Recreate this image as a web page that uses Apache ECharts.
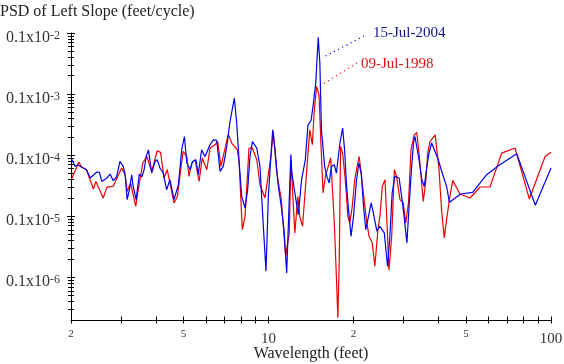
<!DOCTYPE html>
<html><head><meta charset="utf-8">
<script src="https://cdn.jsdelivr.net/npm/echarts@6/dist/echarts.min.js"></script>
<style>html,body{margin:0;padding:0;background:#fff}#c{width:564px;height:364px}</style>
</head><body><div id="c"></div>
<script>
// ---- data ----
const seriesNames = ['15-Jul-2004', '09-Jul-1998'];
const titleText = 'PSD of Left Slope (feet/cycle)';
const xAxisName = 'Wavelength (feet)';

const blueWl = [2.00,2.07,2.11,2.21,2.27,2.34,2.47,2.52,2.57,2.68,
  2.75,2.82,2.90,2.98,3.06,3.11,3.16,3.22,3.28,3.32,
  3.40,3.49,3.56,3.63,3.69,3.76,3.86,3.97,4.04,4.13,
  4.24,4.36,4.48,4.63,4.80,4.93,5.04,5.14,5.28,5.39,
  5.54,5.64,5.80,5.96,6.21,6.38,6.56,6.74,6.92,7.12,
  7.31,7.57,7.72,7.87,8.04,8.26,8.44,8.60,8.77,9.09,
  9.33,9.56,9.80,9.99,10.2,10.35,10.55,10.8,11.1,11.35,
  11.6,12.0,12.1,12.4,12.75,13.1,13.5,13.8,14.15,14.4,
  14.7,15.0,15.2,15.4,15.8,16.1,16.4,16.7,17.1,17.4,
  17.9,18.3,18.6,18.9,19.3,19.6,20.0,20.5,20.9,21.3,
  21.7,22.1,22.6,23.1,23.5,24.2,24.8,25.7,26.4,26.9,
  27.4,28.0,29.0,29.6,30.2,30.9,31.4,31.95,32.6,33.0,
  34.1,34.9,35.6,36.3,37.0,37.8,39.9,41.2,42.7,43.7,
  47.9,52.8,59.2,65.1,75.7,88.0,100];
const bluePsd = [8.97e-6,6.54e-6,6.97e-6,6.16e-6,5.77e-6,4.23e-6,5.30e-6,5.21e-6,3.72e-6,4.23e-6,
  4.91e-6,3.82e-6,4.39e-6,7.89e-6,6.54e-6,4.78e-6,1.87e-6,2.72e-6,4.78e-6,3.08e-6,
  1.87e-6,4.91e-6,4.39e-6,5.77e-6,9.52e-6,1.22e-5,5.10e-6,7.89e-6,8.41e-6,6.16e-6,
  5.10e-6,2.72e-6,3.96e-6,1.87e-6,3.28e-6,1.22e-5,2.02e-5,7.43e-6,5.77e-6,7.89e-6,
  8.41e-6,4.78e-6,1.22e-5,9.52e-6,1.48e-5,1.78e-5,1.74e-5,5.42e-6,6.54e-6,1.39e-5,
  3.55e-5,8.57e-5,3.35e-5,7.89e-6,2.11e-6,1.37e-6,2.72e-6,9.52e-6,1.67e-5,1.31e-5,
  6.54e-6,8.80e-7,1.26e-7,2.11e-6,9.52e-6,2.60e-5,1.22e-5,3.50e-6,1.45e-6,6.04e-7,
  1.18e-7,1.02e-5,5.10e-6,2.40e-6,1.06e-6,3.96e-6,8.41e-6,3.14e-5,3.69e-5,6.66e-5,
  1.51e-4,8.50e-4,3.20e-4,2.60e-5,6.54e-6,4.49e-6,3.50e-6,6.54e-6,6.97e-6,5.10e-6,
  1.58e-5,2.77e-5,1.22e-5,3.08e-6,9.96e-7,4.69e-7,9.96e-7,3.96e-6,7.43e-6,5.10e-6,
  1.45e-6,6.04e-7,9.96e-7,1.65e-6,1.13e-6,5.67e-7,6.84e-7,5.34e-7,1.5e-7,4.69e-7,
  2.40e-6,4.49e-6,4.23e-6,2.11e-6,9.96e-7,3.66e-7,1.28e-6,4.49e-6,1.58e-5,2.02e-5,
  8.41e-6,3.96e-6,3.08e-6,6.16e-6,1.08e-5,1.58e-5,8.41e-6,5.10e-6,3.08e-6,1.69e-6,
  2.31e-6,2.46e-6,4.78e-6,6.71e-6,1.05e-5,1.51e-6,6.16e-6];

const redWl = [2.01,2.10,2.13,2.18,2.27,2.40,2.45,2.60,2.68,2.82,
  3.02,3.11,3.16,3.25,3.39,3.46,3.59,3.71,3.79,3.86,
  4.04,4.15,4.27,4.38,4.63,4.76,4.89,4.99,5.14,5.23,
  5.35,5.50,5.68,5.83,6.05,6.21,6.47,6.61,6.79,6.98,
  7.21,7.41,7.76,7.87,8.08,8.26,8.37,8.53,8.77,9.09,
  9.33,9.72,10.2,10.4,10.7,11.1,11.5,11.85,12.0,12.4,
  12.7,12.9,13.2,13.5,13.8,14.0,14.3,14.5,14.8,15.1,
  15.35,15.6,15.9,16.6,16.8,17.1,17.4,17.6,17.8,18.0,
  18.3,18.7,19.1,19.4,19.8,20.2,20.7,20.95,21.4,21.8,
  22.3,22.7,23.3,23.8,24.4,24.8,25.3,25.85,26.2,26.7,
  27.3,27.9,28.4,29.2,30.0,30.6,31.3,31.95,32.8,33.5,
  34.1,34.7,35.3,36.0,36.6,37.3,38.9,39.4,40.1,41.0,
  41.9,42.7,43.7,44.9,47.6,51.7,56.1,60.8,66.9,74.6,
  83.8,95.3,100];
const redPsd = [4.12e-6,6.54e-6,7.72e-6,6.39e-6,5.77e-6,2.79e-6,3.72e-6,1.99e-6,2.99e-6,3.08e-6,
  6.16e-6,4.78e-6,2.55e-6,3.50e-6,1.45e-6,2.72e-6,7.43e-6,9.52e-6,6.97e-6,5.42e-6,
  1.18e-5,1.11e-5,4.23e-6,5.77e-6,1.65e-6,2.11e-6,5.77e-6,1.15e-5,9.52e-6,4.49e-6,
  7.43e-6,8.41e-6,3.72e-6,8.97e-6,5.77e-6,1.31e-5,1.48e-5,1.67e-5,6.54e-6,1.15e-5,
  2.21e-5,1.58e-5,1.22e-5,7.89e-6,6.04e-7,9.96e-7,2.72e-6,1.31e-5,1.31e-5,8.41e-6,
  3.28e-6,1.99e-6,9.52e-6,2.44e-5,5.10e-6,1.87e-6,2.21e-7,5.34e-7,8.41e-6,5.34e-7,
  2.11e-6,9.96e-7,6.84e-7,2.72e-6,1.08e-5,2.60e-5,1.48e-5,4.87e-5,1.33e-4,9.70e-5,
  1.39e-5,2.40e-6,4.49e-6,8.97e-6,3.50e-6,7.77e-7,9.81e-8,2.18e-8,1.73e-7,1.39e-5,
  1.08e-5,3.96e-6,9.96e-7,7.77e-7,1.45e-6,3.96e-6,7.43e-6,9.52e-6,3.96e-6,1.87e-6,
  7.77e-7,4.69e-7,3.66e-7,1.52e-7,6.04e-7,9.96e-7,3.08e-6,3.96e-6,9.96e-7,1.31e-7,
  4.69e-7,5.77e-6,4.49e-6,1.87e-6,1.65e-6,7.77e-7,1.65e-6,1.22e-5,2.15e-5,2.35e-5,
  1.08e-5,4.49e-6,1.75e-6,3.50e-6,1.08e-5,1.67e-5,2.15e-5,2.30e-5,6.16e-6,1.28e-6,
  4.42e-7,8.80e-7,1.87e-6,3.86e-6,2.31e-6,1.99e-6,3.01e-6,3.01e-6,1.08e-5,1.31e-5,
  1.92e-6,9.52e-6,1.12e-5];

const xLabelValues = [2, 5, 10, 20, 50, 100];
const xLabelTexts  = ['2', '5', '10', '2', '5', '100'];
const xTickValues  = [2,3,4,5,6,7,8,9,10,20,30,40,50,60,70,80,90,100];
const yLabelValues = [1e-7, 1e-6, 1e-5, 1e-4, 1e-3];
const yMinorValues = [3e-8,4e-8,5e-8,6e-8,7e-8,8e-8,9e-8,
  2e-7,3e-7,4e-7,5e-7,6e-7,7e-7,8e-7,9e-7,
  2e-6,3e-6,4e-6,5e-6,6e-6,7e-6,8e-6,9e-6,
  2e-5,3e-5,4e-5,5e-5,6e-5,7e-5,8e-5,9e-5,
  2e-4,3e-4,4e-4,5e-4,6e-4,7e-4,8e-4,9e-4];

// ---- chart ----
const FONT = '"Liberation Serif", "DejaVu Serif", serif';
const X_MIN = 2, X_MAX = 100, Y_MIN = 2e-8, Y_MAX = 1e-3;

function xFmt(v) {
  for (let i = 0; i < xLabelValues.length; i++) {
    if (Math.abs(xLabelValues[i] - v) / xLabelValues[i] < 1e-6) {
      const t = xLabelTexts[i];
      return t.length > 1 ? '{b|' + t + '}' : '{s|' + t + '}';
    }
  }
  return '';
}
function yFmt(v) {
  const e = Math.round(Math.log10(v)) + 1;
  return '{m|0.1x10}{e|' + e + '}';
}

function xAxisDef(inside, withLabel) {
  return {
    type: 'log', logBase: 10, min: X_MIN, max: X_MAX, position: 'bottom', offset: 0,
    axisLine: { show: withLabel, lineStyle: { color: '#000', width: 1 } },
    axisTick: { show: true, inside: inside, length: 3.5, customValues: xTickValues,
                lineStyle: { color: '#000', width: 1 } },
    axisLabel: withLabel ? {
      show: true, customValues: xLabelValues, formatter: xFmt, margin: 8,
      rich: {
        s: { fontFamily: FONT, fontSize: 11, color: '#333', lineHeight: 12 },
        b: { fontFamily: FONT, fontSize: 15, color: '#333', lineHeight: 15, padding: [7, 0, 0, 0] }
      }
    } : { show: false },
    splitLine: { show: false },
    minorTick: { show: false }
  };
}
function yAxisDef(inside, values, len, withLabel) {
  return {
    type: 'log', logBase: 10, min: Y_MIN, max: Y_MAX, position: 'left', offset: 0,
    axisLine: { show: withLabel, lineStyle: { color: '#000', width: 1 } },
    axisTick: { show: true, inside: inside, length: len, customValues: values,
                lineStyle: { color: '#000', width: 1 } },
    axisLabel: withLabel ? {
      show: true, customValues: yLabelValues, formatter: yFmt, margin: 11,
      padding: [9, 0, 0, 0],
      rich: {
        m: { fontFamily: FONT, fontSize: 16, color: '#333', lineHeight: 16, verticalAlign: 'bottom' },
        e: { fontFamily: FONT, fontSize: 12, color: '#333', lineHeight: 12, verticalAlign: 'top', padding: [0, 0, 8, 0] }
      }
    } : { show: false },
    splitLine: { show: false },
    minorTick: { show: false }
  };
}

const chart = echarts.init(document.getElementById('c'), null, { renderer: 'canvas' });
chart.setOption({
  animation: false,
  backgroundColor: '#fff',
  grid: { left: 71, right: 13, top: 33, bottom: 44, containLabel: false, outerBoundsMode: 'none' },
  xAxis: [xAxisDef(false, true), xAxisDef(true, false)],
  yAxis: [
    yAxisDef(false, yLabelValues, 4, true),
    yAxisDef(true, yLabelValues, 4, false),
    yAxisDef(false, yMinorValues, 3, false),
    yAxisDef(true, yMinorValues, 3, false)
  ],
  series: [
    {
      name: seriesNames[1], type: 'line', xAxisIndex: 0, yAxisIndex: 0,
      data: redWl.map((w, i) => [w, redPsd[i]]),
      showSymbol: false, symbol: 'none',
      lineStyle: { color: '#ee0000', width: 1.2 }, z: 2
    },
    {
      name: seriesNames[0], type: 'line', xAxisIndex: 0, yAxisIndex: 0,
      data: blueWl.map((w, i) => [w, bluePsd[i]]),
      showSymbol: false, symbol: 'none',
      lineStyle: { color: '#0000ee', width: 1.2 }, z: 3
    }
  ],
  graphic: [
    { type: 'text', left: 0, top: 4,
      style: { text: titleText, font: '16px ' + FONT, fill: '#222' } },
    { type: 'text', x: 311, y: 346,
      style: { text: xAxisName, font: '16px ' + FONT, fill: '#222', align: 'center', verticalAlign: 'top' } },
    { type: 'text', left: 373, top: 26,
      style: { text: seriesNames[0], font: '15px ' + FONT, fill: '#12128c' } },
    { type: 'text', left: 361, top: 57,
      style: { text: seriesNames[1], font: '15px ' + FONT, fill: '#dd1414' } },
    { type: 'line', shape: { x1: 325.5, y1: 56, x2: 364, y2: 36 },
      style: { stroke: '#0000ee', lineWidth: 1.2, lineDash: [1.2, 3.5] } },
    { type: 'line', shape: { x1: 320, y1: 86, x2: 360, y2: 61 },
      style: { stroke: '#ee0000', lineWidth: 1.2, lineDash: [1.2, 3.5] } }
  ]
});
</script>
</body></html>
